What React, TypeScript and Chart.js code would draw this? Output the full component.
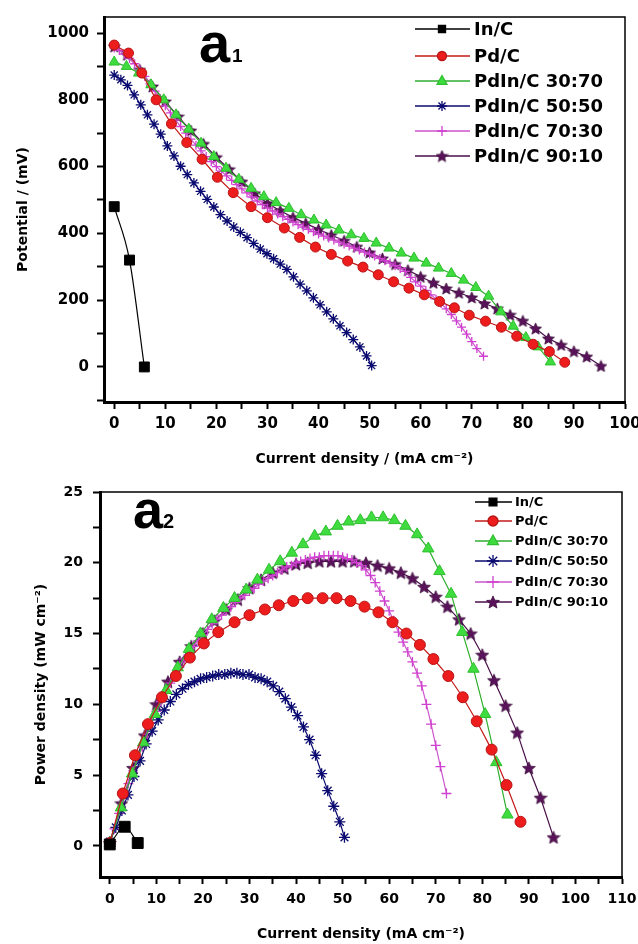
import React, { useEffect, useRef } from 'react';
import { Chart, registerables } from 'chart.js';

Chart.register(...registerables);

// ---------------- data ----------------
const seriesLabels = ['In/C', 'Pd/C', 'PdIn/C 30:70', 'PdIn/C 50:50', 'PdIn/C 70:30', 'PdIn/C 90:10'];

// In/C
const inC_I = [0, 3.0, 5.9];
const inC_V = [480, 320, 0];
const inC_Ip = [0, 3.2, 6.0];
const inC_P = [0.1, 1.35, 0.2];

// Pd/C
const pd_I = [0, 2.8, 5.4, 8.2, 11.2, 14.2, 17.2, 20.2, 23.3, 26.8, 30.0, 33.3, 36.3, 39.4, 42.5, 45.7, 48.7, 51.7, 54.7, 57.7, 60.7, 63.7, 66.6, 69.5, 72.7, 75.8, 78.8, 82.0, 85.2, 88.2];
const pd_V = [964, 940, 880, 800, 728, 672, 622, 568, 522, 480, 447, 416, 388, 359, 337, 317, 299, 276, 255, 236, 216, 196, 177, 155, 137, 119, 92, 68, 46, 14];
const pd_P = [0.2, 3.7, 6.4, 8.6, 10.5, 12.0, 13.3, 14.3, 15.1, 15.8, 16.3, 16.7, 17.0, 17.3, 17.5, 17.5, 17.5, 17.3, 16.9, 16.5, 15.8, 15.0, 14.2, 13.2, 12.0, 10.5, 8.8, 6.8, 4.3, 1.7];

// PdIn/C 30:70
const g_I = [0, 2.4, 4.8, 7.2, 9.7, 12.1, 14.6, 17.0, 19.5, 21.9, 24.4, 26.8, 29.3, 31.7, 34.2, 36.6, 39.1, 41.5, 44.0, 46.4, 48.9, 51.3, 53.8, 56.2, 58.7, 61.1, 63.5, 66.0, 68.4, 70.8, 73.3, 75.7, 78.1, 80.6, 83.0, 85.4];
const g_V = [913, 900, 880, 845, 800, 755, 712, 670, 630, 595, 562, 535, 510, 492, 475, 456, 440, 425, 410, 396, 385, 371, 356, 341, 326, 311, 296, 280, 260, 238, 212, 165, 122, 88, 60, 15];
const g_P = [0.2, 2.7, 5.1, 7.3, 9.3, 11.0, 12.6, 13.9, 15.0, 16.0, 16.8, 17.5, 18.1, 18.8, 19.5, 20.1, 20.7, 21.3, 21.9, 22.2, 22.6, 22.9, 23.0, 23.2, 23.2, 23.0, 22.6, 22.0, 21.0, 19.4, 17.8, 15.1, 12.5, 9.3, 5.9, 2.2];

// PdIn/C 50:50
const n_I = [0, 1.3, 2.6, 3.9, 5.2, 6.5, 7.8, 9.1, 10.4, 11.7, 13.0, 14.3, 15.6, 16.9, 18.2, 19.5, 20.8, 22.1, 23.4, 24.7, 26.0, 27.3, 28.6, 29.9, 31.2, 32.5, 33.8, 35.1, 36.4, 37.7, 39.0, 40.3, 41.6, 42.9, 44.2, 45.5, 46.8, 48.1, 49.4, 50.4];
const n_V = [874, 860, 843, 815, 785, 755, 727, 697, 662, 632, 601, 576, 551, 526, 502, 479, 456, 437, 419, 403, 387, 370, 353, 339, 324, 308, 292, 270, 248, 228, 207, 186, 165, 144, 123, 103, 82, 60, 33, 4];
const n_P = [0.3, 1.3, 2.5, 3.6, 4.9, 6.0, 7.2, 8.1, 8.9, 9.6, 10.2, 10.7, 11.1, 11.4, 11.6, 11.8, 11.9, 12.0, 12.1, 12.1, 12.2, 12.2, 12.1, 12.1, 11.9, 11.8, 11.6, 11.3, 10.9, 10.4, 9.8, 9.2, 8.4, 7.5, 6.4, 5.1, 3.9, 2.8, 1.7, 0.6];

// PdIn/C 70:30
const k_I = [0, 1, 2, 3, 4, 5, 6, 7, 8, 9, 10, 11, 12, 13, 14, 15, 16, 17, 18, 19, 20, 21, 22, 23, 24, 25, 26, 27, 28, 29, 30, 31, 32, 33, 34, 35, 36, 37, 38, 39, 40, 41, 42, 43, 44, 45, 46, 47, 48, 49, 50, 51, 52, 53, 54, 55, 56, 57, 58, 59, 60, 61, 62, 63, 64, 65, 66, 67, 68, 69, 70, 71, 72.3];
const k_V = [955, 948, 937, 924, 908, 890, 870, 848, 826, 804, 782, 761, 740, 720, 700, 682, 664, 647, 630, 615, 600, 586, 572, 559, 546, 533, 521, 509, 497, 486, 476, 467, 458, 450, 442, 434, 426, 419, 412, 405, 398, 392, 386, 380, 374, 368, 362, 356, 350, 344, 338, 332, 325, 318, 311, 303, 295, 286, 268, 255, 242, 229, 216, 203, 190, 174, 157, 138, 119, 98, 76, 55, 32];
const k_P = [0.2, 1.2, 2.3, 3.4, 4.4, 5.3, 6.2, 7.0, 7.9, 8.7, 9.5, 10.2, 10.9, 11.5, 12.1, 12.7, 13.2, 13.7, 14.1, 14.5, 14.9, 15.3, 15.7, 16.0, 16.3, 16.6, 16.9, 17.2, 17.5, 17.7, 18.0, 18.2, 18.5, 18.7, 18.9, 19.1, 19.3, 19.5, 19.7, 19.8, 20.0, 20.1, 20.2, 20.3, 20.4, 20.4, 20.5, 20.5, 20.5, 20.5, 20.4, 20.3, 20.2, 20.0, 19.8, 19.5, 19.1, 18.6, 18.0, 17.3, 16.6, 15.9, 15.1, 14.4, 13.7, 13.0, 12.2, 11.3, 10.0, 8.6, 7.1, 5.6, 3.7];

// PdIn/C 90:10
const u_I = [0, 2.5, 5.0, 7.5, 10.0, 12.5, 15.0, 17.5, 20.0, 22.5, 25.0, 27.5, 30.0, 32.5, 35.0, 37.5, 40.0, 42.5, 45.0, 47.5, 50.0, 52.5, 55.0, 57.5, 60.0, 62.5, 65.0, 67.5, 70.0, 72.5, 75.0, 77.5, 80.0, 82.5, 85.0, 87.5, 90.0, 92.5, 95.3];
const u_V = [960, 935, 890, 840, 795, 750, 708, 668, 628, 592, 555, 520, 490, 468, 448, 430, 412, 395, 378, 360, 343, 325, 308, 290, 270, 252, 235, 222, 208, 190, 175, 156, 138, 115, 85, 66, 47, 31, 3];
const u_P = [0.2, 3.0, 5.5, 7.8, 10.0, 11.6, 13.0, 14.1, 15.0, 15.9, 16.7, 17.4, 18.2, 18.8, 19.3, 19.6, 19.9, 20.0, 20.1, 20.1, 20.1, 20.1, 20.0, 19.8, 19.6, 19.3, 18.9, 18.3, 17.6, 16.9, 16.0, 15.0, 13.5, 11.7, 9.9, 8.0, 5.5, 3.4, 0.6];

// axis ticks
const topXTicks = [0, 5, 10, 15, 20, 25, 30, 35, 40, 45, 50, 55, 60, 65, 70, 75, 80, 85, 90, 95, 100];
const topXLabels = [0, 10, 20, 30, 40, 50, 60, 70, 80, 90, 100];
const topYTicks = [-100, 0, 100, 200, 300, 400, 500, 600, 700, 800, 900, 1000];
const topYLabels = [0, 200, 400, 600, 800, 1000];
const botXTicks = [0, 5, 10, 15, 20, 25, 30, 35, 40, 45, 50, 55, 60, 65, 70, 75, 80, 85, 90, 95, 100, 105, 110];
const botXLabels = [0, 10, 20, 30, 40, 50, 60, 70, 80, 90, 100, 110];
const botYTicks = [0, 2.5, 5, 7.5, 10, 12.5, 15, 17.5, 20, 22.5, 25];
const botYLabels = [0, 5, 10, 15, 20, 25];

// ---------------- styles ----------------
const seriesStyles = [
  { line: '#000000', fill: '#000000', edge: '#000000', point: 'rect', r: 7 },
  { line: '#c41a1a', fill: '#ee1d1d', edge: '#b81414', point: 'circle', r: 5 },
  { line: '#2fae2f', fill: '#3fdc3f', edge: '#2fbf2f', point: 'triangle', r: 6 },
  { line: '#0a0a70', fill: '#0a0a70', edge: '#0a0a70', point: 'star', r: 5 },
  { line: '#cc55cc', fill: '#dd55dd', edge: '#d040d0', point: 'cross', r: 4.5 },
  { line: '#4a0f4a', fill: '#5a135a', edge: '#4a0f4a', point: 'image', r: 6 },
];

const FONT = "'DejaVu Sans', 'Liberation Sans', sans-serif";

function makeStar(size: number, fill: string, stroke: string) {
  const c = document.createElement('canvas');
  c.width = size;
  c.height = size;
  const ctx = c.getContext('2d')!;
  const cx = size / 2, cy = size / 2 + 0.6;
  const R = size / 2 - 0.3, r = R * 0.45;
  ctx.beginPath();
  for (let i = 0; i < 10; i++) {
    const a = -Math.PI / 2 + (i * Math.PI) / 5;
    const rr = i % 2 === 0 ? R : r;
    ctx.lineTo(cx + rr * Math.cos(a), cy + rr * Math.sin(a));
  }
  ctx.closePath();
  ctx.fillStyle = fill;
  ctx.fill();
  ctx.strokeStyle = stroke;
  ctx.lineWidth = 0.8;
  ctx.stroke();
  return c;
}

function drawMarker(ctx: CanvasRenderingContext2D, style: string, x: number, y: number, r: number, fill: string, stroke: string, img?: HTMLCanvasElement) {
  ctx.save();
  ctx.fillStyle = fill;
  ctx.strokeStyle = stroke;
  ctx.lineWidth = 1.3;
  ctx.beginPath();
  if (style === 'rect') {
    const s = r * Math.SQRT1_2;
    ctx.rect(x - s, y - s, 2 * s, 2 * s);
    ctx.fill();
    ctx.stroke();
  } else if (style === 'circle') {
    ctx.arc(x, y, r, 0, Math.PI * 2);
    ctx.fill();
    ctx.stroke();
  } else if (style === 'triangle') {
    ctx.moveTo(x, y - r);
    ctx.lineTo(x + r * 0.9, y + r * 0.6);
    ctx.lineTo(x - r * 0.9, y + r * 0.6);
    ctx.closePath();
    ctx.fill();
    ctx.stroke();
  } else if (style === 'star') {
    for (let k = 0; k < 4; k++) {
      const a = (k * Math.PI) / 4;
      ctx.moveTo(x - r * Math.cos(a), y - r * Math.sin(a));
      ctx.lineTo(x + r * Math.cos(a), y + r * Math.sin(a));
    }
    ctx.stroke();
  } else if (style === 'cross') {
    ctx.moveTo(x - r, y);
    ctx.lineTo(x + r, y);
    ctx.moveTo(x, y - r);
    ctx.lineTo(x, y + r);
    ctx.stroke();
  } else if (img) {
    ctx.drawImage(img, x - img.width / 2, y - img.height / 2);
  }
  ctx.restore();
}

function buildDatasets(xs: number[][], ys: number[][], scale: number, starImg: HTMLCanvasElement) {
  return seriesLabels.map((label, i) => {
    const st = seriesStyles[i];
    return {
      label,
      data: xs[i].map((x, j) => ({ x, y: ys[i][j] })),
      borderColor: st.line,
      borderWidth: 1.2,
      backgroundColor: st.fill,
      pointStyle: st.point === 'image' ? starImg : st.point,
      pointRadius: st.r * scale,
      pointBackgroundColor: st.fill,
      pointBorderColor: st.edge,
      pointBorderWidth: st.point === 'star' || st.point === 'cross' ? 1.3 : 1,
      cubicInterpolationMode: i === 0 ? 'monotone' : 'default',
      tension: i === 0 ? 0.4 : 0,
      fill: false,
      clip: false,
    };
  });
}

function overlayPlugin(cfg: any, starImg: HTMLCanvasElement) {
  return {
    id: 'overlay_' + cfg.id,
    afterDraw(chart: any) {
      const ctx: CanvasRenderingContext2D = chart.ctx;
      const { left, right, top, bottom } = chart.chartArea;
      ctx.save();
      ctx.strokeStyle = '#000';
      ctx.lineWidth = 1.5;
      ctx.beginPath();
      ctx.moveTo(left, top);
      ctx.lineTo(right, top);
      ctx.lineTo(right, bottom);
      ctx.stroke();

      // panel tag
      ctx.fillStyle = '#000';
      ctx.textAlign = 'left';
      ctx.textBaseline = 'alphabetic';
      ctx.font = `bold ${cfg.tagSize}px 'Liberation Sans', Arial, sans-serif`;
      ctx.fillText('a', cfg.tagX, cfg.tagY);
      ctx.font = `bold ${cfg.subSize}px 'Liberation Sans', Arial, sans-serif`;
      ctx.fillText(cfg.sub, cfg.subX, cfg.tagY);

      // legend
      seriesLabels.forEach((label, i) => {
        const st = seriesStyles[i];
        const y = cfg.legY[i];
        ctx.strokeStyle = st.line;
        ctx.lineWidth = 1.5;
        ctx.beginPath();
        ctx.moveTo(cfg.legX0, y);
        ctx.lineTo(cfg.legX1, y);
        ctx.stroke();
        drawMarker(ctx, st.point, cfg.legMX, y, cfg.legR[i], st.fill, st.edge, starImg);
        ctx.fillStyle = '#000';
        ctx.font = `bold ${cfg.legFont}px ${FONT}`;
        ctx.textBaseline = 'middle';
        ctx.textAlign = 'left';
        ctx.fillText(label, cfg.legTX, y + 1);
      });
      ctx.restore();
    },
  };
}

function axis(opts: any) {
  return {
    type: 'linear',
    position: opts.position,
    min: opts.min,
    max: opts.max,
    afterBuildTicks: (s: any) => {
      s.ticks = opts.ticks.map((v: number) => ({ value: v }));
    },
    afterFit: (s: any) => {
      if (opts.position === 'bottom') {
        s.height = opts.size;
        s.paddingLeft = 0;
        s.paddingRight = 0;
      } else {
        s.width = opts.size;
        s.paddingTop = 0;
        s.paddingBottom = 0;
      }
    },
    ticks: {
      autoSkip: false,
      maxRotation: 0,
      minRotation: 0,
      padding: opts.tickPad,
      color: '#000',
      font: { family: FONT, weight: 'bold', size: opts.tickFont },
      callback: (v: number) => (opts.labels.includes(v) ? String(v) : ''),
    },
    grid: {
      display: true,
      drawOnChartArea: false,
      drawTicks: true,
      tickLength: 7,
      tickWidth: 2,
      tickColor: '#000',
    },
    border: { display: true, color: '#000', width: 3 },
    title: {
      display: true,
      text: opts.title,
      color: '#000',
      font: { family: FONT, weight: 'bold', size: 14 },
      padding: opts.titlePad,
    },
  };
}

export default function App() {
  const ref1 = useRef<HTMLCanvasElement>(null);
  const ref2 = useRef<HTMLCanvasElement>(null);

  useEffect(() => {
    const star1 = makeStar(13, '#5a135a', '#3a0a3a');
    const star2 = makeStar(14, '#5a135a', '#3a0a3a');

    const topX = [inC_I, pd_I, g_I, n_I, k_I, u_I];
    const topY = [inC_V, pd_V, g_V, n_V, k_V, u_V];
    const botX = [inC_Ip, pd_I, g_I, n_I, k_I, u_I];
    const botY = [inC_P, pd_P, g_P, n_P, k_P, u_P];

    const c1 = new Chart(ref1.current!, {
      type: 'line',
      data: { datasets: buildDatasets(topX, topY, 1, star1) as any },
      options: {
        responsive: false,
        animation: false,
        events: [],
        layout: { padding: { top: 17, right: 13, left: 0, bottom: 0 } },
        plugins: { legend: { display: false }, tooltip: { enabled: false } },
        scales: {
          x: axis({ position: 'bottom', min: -2, max: 100, ticks: topXTicks, labels: topXLabels, size: 70, tickPad: 6, tickFont: 15, title: 'Current density / (mA cm⁻²)', titlePad: { top: 0, bottom: 4 } }),
          y: axis({ position: 'left', min: -105, max: 1048, ticks: topYTicks, labels: topYLabels, size: 104, tickPad: 8, tickFont: 15, title: 'Potential / (mV)', titlePad: { top: 15, bottom: 0 } }),
        } as any,
      },
      plugins: [
        overlayPlugin({
          id: 'top', tagSize: 56, tagX: 199, tagY: 62, sub: '1', subSize: 19, subX: 232,
          legY: [29, 56, 81, 106, 131, 156], legX0: 415, legX1: 470, legMX: 442, legTX: 474,
          legR: [5, 4.5, 5.5, 5, 5, 0], legFont: 18,
        }, star1) as any,
      ],
    } as any);

    const c2 = new Chart(ref2.current!, {
      type: 'line',
      data: { datasets: buildDatasets(botX, botY, 1.1, star2) as any },
      options: {
        responsive: false,
        animation: false,
        events: [],
        layout: { padding: { top: 20, right: 16, left: 0, bottom: 0 } },
        plugins: { legend: { display: false }, tooltip: { enabled: false } },
        scales: {
          x: axis({ position: 'bottom', min: -2.1, max: 110, ticks: botXTicks, labels: botXLabels, size: 67, tickPad: 7, tickFont: 14, title: 'Current density (mA cm⁻²)', titlePad: { top: 0, bottom: 1 } }),
          y: axis({ position: 'left', min: -2.2, max: 25, ticks: botYTicks, labels: botYLabels, size: 100, tickPad: 10, tickFont: 14, title: 'Power density (mW cm⁻²)', titlePad: { top: 33, bottom: 0 } }),
        } as any,
      },
      plugins: [
        overlayPlugin({
          id: 'bot', tagSize: 54, tagX: 133, tagY: 56, sub: '2', subSize: 20, subX: 163,
          legY: [30, 49, 69, 89, 110, 130], legX0: 475, legX1: 512, legMX: 493, legTX: 515,
          legR: [5.5, 5, 6, 6, 6, 0], legFont: 13,
        }, star2) as any,
      ],
    } as any);

    return () => {
      c1.destroy();
      c2.destroy();
    };
  }, []);

  return (
    <div style={{ position: 'absolute', left: 0, top: 0, width: 638, height: 944, background: '#fff' }}>
      <canvas ref={ref1} width={638} height={472} style={{ position: 'absolute', left: 0, top: 0 }} />
      <canvas ref={ref2} width={638} height={472} style={{ position: 'absolute', left: 0, top: 472 }} />
    </div>
  );
}
